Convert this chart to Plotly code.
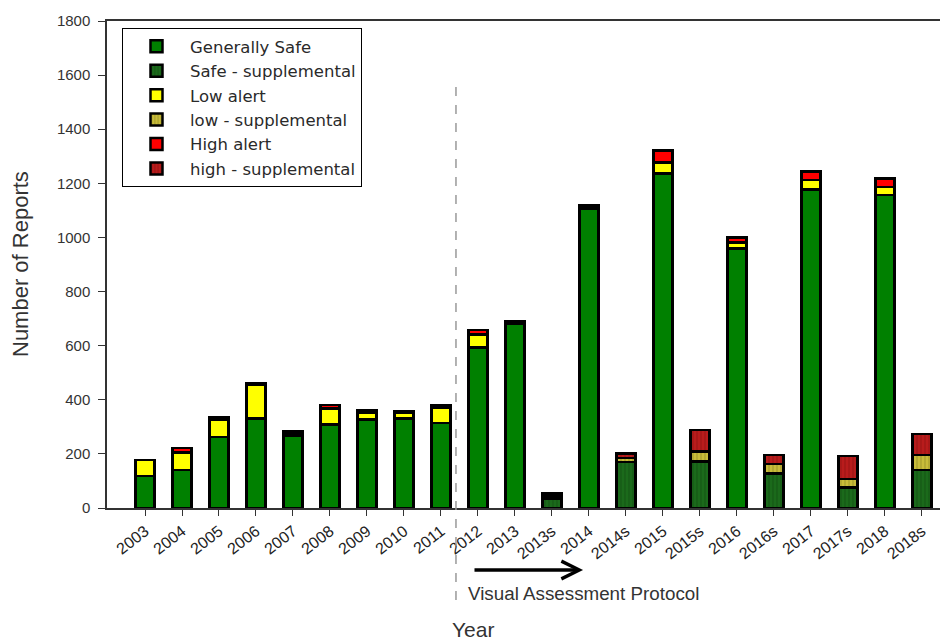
import plotly.graph_objects as go

categories = ["2003", "2004", "2005", "2006", "2007", "2008", "2009", "2010", "2011",
              "2012", "2013", "2013s", "2014", "2014s", "2015", "2015s", "2016", "2016s",
              "2017", "2017s", "2018", "2018s"]
N = None
gen_safe   = [118, 140, 263, 331, 266, 309, 328, 331, 315, 594, 680, N, 1106, N, 1237, N, 959, N, 1178, N, 1157, N]
safe_supp  = [N, N, N, N, N, N, N, N, N, N, N, 36, N, 170, N, 171, N, 128, N, 76, N, 140]
low_alert  = [60, 66, 65, 125, 10, 59, 24, 20, 55, 47, 7, N, 8, N, 40, N, 22, N, 34, N, 30, N]
low_supp   = [N, N, N, N, N, N, N, N, N, N, N, 10, N, 14, N, 37, N, 34, N, 31, N, 56]
high_alert = [N, 15, 8, 5, 7, 12, 8, 6, 8, 17, 5, N, 6, N, 45, N, 18, N, 31, N, 31, N]
high_supp  = [N, N, N, N, N, N, N, N, N, N, N, 10, N, 18, N, 80, N, 34, N, 85, N, 77]

y_ticks = [0, 200, 400, 600, 800, 1000, 1200, 1400, 1600, 1800]

xs = list(range(len(categories)))

series = [
    ("Generally Safe", gen_safe, "#008000", None),
    ("Safe - supplemental", safe_supp, "#1b6a1b", "#0f4a0f"),
    ("Low alert", low_alert, "#ffff00", None),
    ("low - supplemental", low_supp, "#c8bc3a", "#8f8620"),
    ("High alert", high_alert, "#ff0000", None),
    ("high - supplemental", high_supp, "#b81c1c", "#8a1010"),
]

fig = go.Figure()
for name, vals, color, pcol in series:
    marker = dict(color=color, line=dict(color="black", width=2.5))
    if pcol:
        marker["pattern"] = dict(shape="|", fgcolor=pcol, bgcolor=color, size=4, solidity=0.35)
    fig.add_trace(go.Bar(x=xs, y=vals, name=name, marker=marker, width=0.52))

# plot area: screen x 107..(beyond 948), y 21..508 ; page has an 8px body margin
PW, PH = 849.0, 487.0
def px(x):
    return (x - 107) / PW
def py(y):
    return (508 - y) / PH

fig.update_layout(
    width=948, height=642,
    barmode="stack",
    plot_bgcolor="white", paper_bgcolor="white",
    margin=dict(l=99, r=0, t=13, b=142),
    font=dict(family="Liberation Sans, Arial, sans-serif", color="#222"),
    legend=dict(x=px(122), y=py(28), xanchor="left", yanchor="top",
                bordercolor="black", borderwidth=1, bgcolor="white",
                font=dict(family="DejaVu Sans, sans-serif", size=16.5, color="#2a2a2a"),
                traceorder="normal", itemwidth=57, tracegroupgap=0),
    showlegend=True,
)
fig.update_xaxes(
    range=[-1.027, 21.92], tickmode="array", tickvals=xs, ticktext=categories,
    tickangle=-38, tickfont=dict(size=16, color="#222"),
    ticks="outside", ticklen=6, tickcolor="#333",
    showline=True, linecolor="#333", linewidth=1.5, mirror=True,
    showgrid=False, zeroline=False,
)
fig.update_yaxes(
    range=[0, 1800], tickvals=y_ticks, tickfont=dict(size=15, color="#333"),
    ticks="outside", ticklen=7, tickcolor="#333", ticklabelstandoff=5,
    showline=True, linecolor="#333", linewidth=1.5,
    showgrid=False, zeroline=False,
)

fig.add_shape(type="line", xref="x", yref="paper", x0=8.405, x1=8.405, y0=py(600), y1=py(78),
              line=dict(color="#999", width=1.5, dash="dash"))
fig.add_annotation(xref="x", yref="paper", axref="x", ayref="pixel",
                   x=11.84, y=py(570), ax=8.865, ay=0, text="", showarrow=True,
                   arrowhead=5, arrowsize=1, arrowwidth=3.5, arrowcolor="black")
fig.add_annotation(xref="paper", yref="paper", x=px(466), y=py(593), xanchor="left", yanchor="middle",
                   text="Visual Assessment Protocol", showarrow=False,
                   font=dict(size=18.8, color="#333"))
fig.add_annotation(xref="paper", yref="paper", x=px(473), y=py(629),
                   xanchor="center", yanchor="middle", text="Year", showarrow=False,
                   font=dict(size=21, color="#333"))
fig.add_annotation(xref="paper", yref="paper", x=px(20), y=py(264),
                   xanchor="center", yanchor="middle", text="Number of Reports", showarrow=False,
                   textangle=-90, font=dict(size=22, color="#333"))

fig.write_html("out.html")
